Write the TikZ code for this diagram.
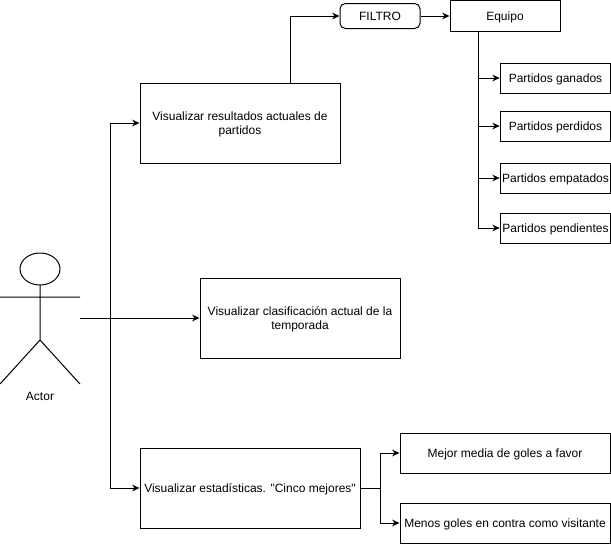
\documentclass[tikz,border=0pt]{standalone}
\usepackage{fontspec}
\setmainfont{Liberation Sans}
\newfontfamily\rectas{Liberation Sans}
\usetikzlibrary{arrows.meta}
\tikzset{
caja/.style={draw,line width=0.75pt,inner sep=1pt,align=center,text depth=0pt,font=\rectas\fontsize{9}{10.5}\selectfont},
flecha/.style={line width=0.75pt,-{Stealth[length=5.5pt,width=5pt]}},
}
\begin{document}
\begin{tikzpicture}[x=0.75pt,y=-0.75pt]
\useasboundingbox (0,0) rectangle (611,544);

\node[caja,minimum width=150pt,minimum height=60pt] (resultados) at (240,123) {Visualizar resultados actuales de\\partidos};
\node[caja,minimum width=150pt,minimum height=60pt] (clasificacion) at (300,318) {Visualizar clasificación actual de la\\temporada};
\node[caja,minimum width=165pt,minimum height=60pt] (estadisticas) at (250,488) {Visualizar estadísticas. "Cinco mejores"};
\node[caja,rounded corners=4pt,minimum width=60pt,minimum height=18.75pt] (filtro) at (380,16) {FILTRO};
\node[caja,minimum width=82.5pt,minimum height=23pt] (equipo) at (505,16) {Equipo};
\node[caja,minimum width=157.5pt,minimum height=30pt] (mejor) at (505,453) {Mejor media de goles a favor};
\node[caja,minimum width=157.5pt,minimum height=30pt] (menos) at (505,523) {Menos goles en contra como visitante};

% actor
\draw[line width=0.75pt] (40,269) ellipse (20 and 16);
\draw[line width=0.75pt] (40,285) -- (40,340) (0,297) -- (80,297) (0,384) -- (40,340) -- (80,384);
\node[font=\rectas\fontsize{9}{10.5}\selectfont,inner sep=0pt] (actor) at (40,396) {Actor};

\coordinate (manos) at (80,318);
\coordinate (bus) at (110,318);
\draw[flecha] (manos) -- (clasificacion);
\draw[flecha] (bus) |- (resultados);
\draw[flecha] (bus) |- (estadisticas);

\coordinate (salida) at (290,83);
\draw[flecha] (salida) |- (filtro);
\draw[flecha] (filtro) -- (equipo);

\coordinate (tronco) at (478,31);
\foreach \nombre/\y/\texto in {ganados/78/Partidos ganados,perdidos/126/Partidos perdidos,empatados/178/Partidos empatados,pendientes/228/Partidos pendientes}
{
\node[caja,minimum width=83pt,minimum height=22.5pt] (\nombre) at (555.5,\y) {\texto};
\draw[flecha] (tronco) |- (\nombre);
}

\coordinate (reparto) at (380,488);
\draw[line width=0.75pt] (estadisticas) -- (reparto);
\draw[flecha] (reparto) |- (mejor);
\draw[flecha] (reparto) |- (menos);

\end{tikzpicture}
\end{document}
